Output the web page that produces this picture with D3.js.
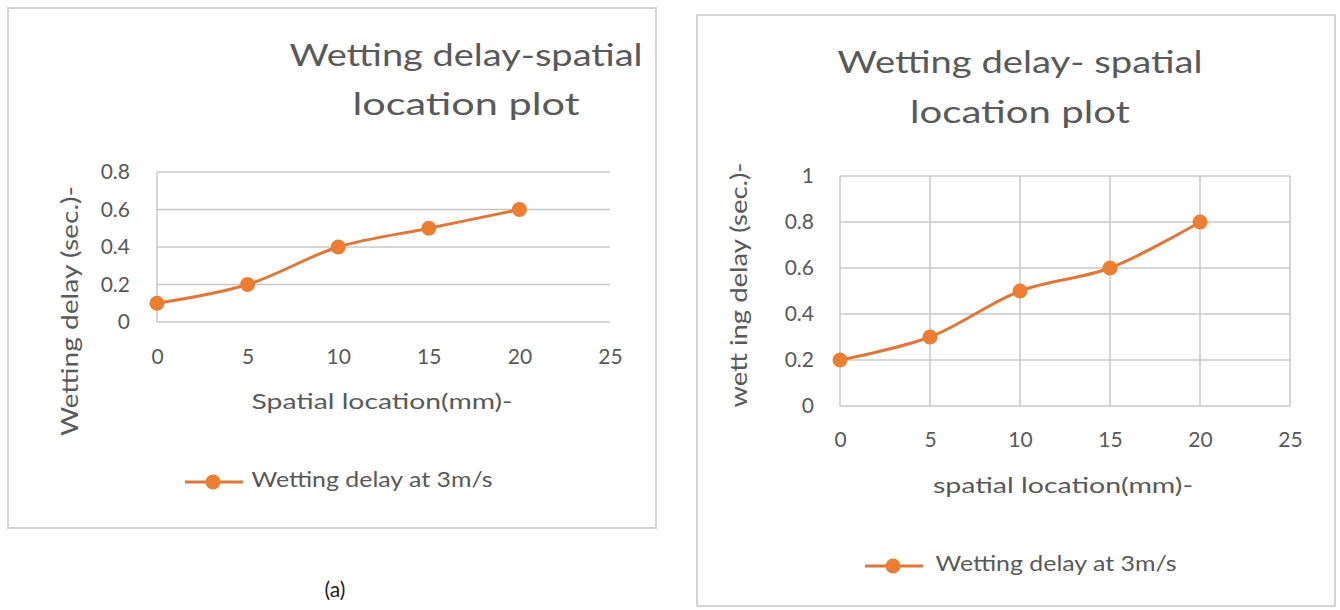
<!DOCTYPE html>
<html><head><meta charset="utf-8">
<script src="https://cdn.jsdelivr.net/npm/d3@7"></script>
<style>
body{margin:0;background:#fff;}
svg{display:block;}
text{font-family:Lato,"Open Sans",sans-serif;fill:#595959;}
</style></head><body>
<svg id="c" width="1340" height="610"></svg>
<script>
const xValues = [0, 5, 10, 15, 20];
const delayA = [0.1, 0.2, 0.4, 0.5, 0.6];
const delayB = [0.2, 0.3, 0.5, 0.6, 0.8];
const xTicks = [0, 5, 10, 15, 20, 25];
const yTicksA = [0, 0.2, 0.4, 0.6, 0.8];
const yTicksB = [0, 0.2, 0.4, 0.6, 0.8, 1];
const titleA = ["Wetting delay-spatial", "location plot"];
const titleB = ["Wetting delay- spatial", "location plot"];
const xLabelA = "Spatial location(mm)-";
const xLabelB = "spatial location(mm)-";
const yLabelA = "Wetting delay (sec.)-";
const yLabelB = "wett ing delay (sec.)-";
const seriesName = "Wetting delay at 3m/s";
const caption = "(a)";

const svg = d3.select("#c");
const orange = "#ED7D31";
const lineCol = "#E0773A";
const grid = "#c8c8c8";

function fitText(sel, cx, y, len, size){
  return sel.append("text").attr("x",cx-len/2).attr("y",y).attr("textLength",len)
    .attr("lengthAdjust","spacingAndGlyphs").style("font-size",size+"px");
}

function chart(cfg){
  const g = svg.append("g");
  g.append("rect").attr("x",cfg.box[0]).attr("y",cfg.box[1]).attr("width",cfg.box[2]).attr("height",cfg.box[3])
    .attr("fill","#fff").attr("stroke","#d4d4d4").attr("stroke-width",2);
  cfg.title.forEach((t,i)=>{
    fitText(g, cfg.titleX, cfg.titleBase[i], cfg.titleLen[i], 31).text(t);
  });
  const x = d3.scaleLinear().domain([0,25]).range([cfg.px0,cfg.px1]);
  const y = d3.scaleLinear().domain([0,cfg.ymax]).range([cfg.py0,cfg.py1]);
  g.append("g").selectAll("line").data(cfg.yTicks).join("line")
    .attr("x1",x(0)).attr("x2",x(25)).attr("y1",d=>y(d)).attr("y2",d=>y(d))
    .attr("stroke",grid).attr("stroke-width",1.5);
  if(cfg.vgrid){
    g.append("g").selectAll("line").data(xTicks).join("line")
      .attr("x1",d=>x(d)).attr("x2",d=>x(d)).attr("y1",y(0)).attr("y2",y(cfg.ymax))
      .attr("stroke",grid).attr("stroke-width",1.5);
  } else {
    g.append("line").attr("x1",x(0)).attr("x2",x(0)).attr("y1",y(0)).attr("y2",y(cfg.ymax))
      .attr("stroke",grid).attr("stroke-width",1.5);
  }
  const xa = g.append("g").attr("transform",`translate(0,${y(0)})`)
    .call(d3.axisBottom(x).tickValues(xTicks).tickSize(0).tickPadding(cfg.xPad).tickFormat(d3.format("d")));
  const ya = g.append("g").attr("transform",`translate(${x(0)},0)`)
    .call(d3.axisLeft(y).tickValues(cfg.yTicks).tickSize(0).tickPadding(cfg.yPad).tickFormat(d=>String(+d.toFixed(1))));
  [xa,ya].forEach(a=>{a.select(".domain").remove(); a.selectAll("text").style("font-size","21px").attr("fill","#595959").style("font-family","Lato,'Open Sans',sans-serif");});
  fitText(g, cfg.xLabX, cfg.xLabY, cfg.xLabLen, 22).attr("dominant-baseline","middle").text(cfg.xLabel);
  const yl = g.append("g").attr("transform",`translate(${cfg.yLabX},${cfg.yLabY}) rotate(-90)`);
  fitText(yl, 0, 0, cfg.yLabLen, 23).attr("dominant-baseline","middle").text(cfg.yLabel);
  const line = d3.line().x((d,i)=>x(xValues[i])).y(d=>y(d)).curve(d3.curveCatmullRom.alpha(0.5));
  g.append("path").attr("d",line(cfg.data)).attr("fill","none").attr("stroke",lineCol).attr("stroke-width",3);
  g.append("g").selectAll("circle").data(cfg.data).join("circle")
    .attr("cx",(d,i)=>x(xValues[i])).attr("cy",d=>y(d)).attr("r",7.5).attr("fill",orange);
  g.append("line").attr("x1",cfg.legX).attr("x2",cfg.legX+58).attr("y1",cfg.legY).attr("y2",cfg.legY)
    .attr("stroke",lineCol).attr("stroke-width",3);
  g.append("circle").attr("cx",cfg.legX+28).attr("cy",cfg.legY).attr("r",7.5).attr("fill",orange);
  fitText(g, cfg.legTextX, cfg.legY, 241, 21).attr("dominant-baseline","middle").text(seriesName);
}

chart({box:[8,8,648,520], title:titleA, titleX:466, titleBase:[66,115], titleLen:[353,227],
  px0:157, px1:610, py0:322, py1:172, ymax:0.8, yTicks:yTicksA, vgrid:false,
  xPad:27, yPad:27, xLabel:xLabelA, xLabX:382, xLabY:403, xLabLen:261,
  yLabel:yLabelA, yLabX:72, yLabY:311, yLabLen:250,
  data:delayA, legX:185, legY:482, legTextX:372});
chart({box:[697,15,638,591], title:titleB, titleX:1020, titleBase:[73,123], titleLen:[365,220],
  px0:840, px1:1290, py0:406, py1:176, ymax:1, yTicks:yTicksB, vgrid:true,
  xPad:26, yPad:26, xLabel:xLabelB, xLabX:1063, xLabY:487, xLabLen:260,
  yLabel:yLabelB, yLabX:741, yLabY:285, yLabLen:245,
  data:delayB, legX:865, legY:566, legTextX:1056});
svg.append("text").attr("x",335).attr("y",592).attr("text-anchor","middle").attr("dominant-baseline","middle")
  .style("font-size","21px").style("fill","#222").text(caption);
</script></body></html>
